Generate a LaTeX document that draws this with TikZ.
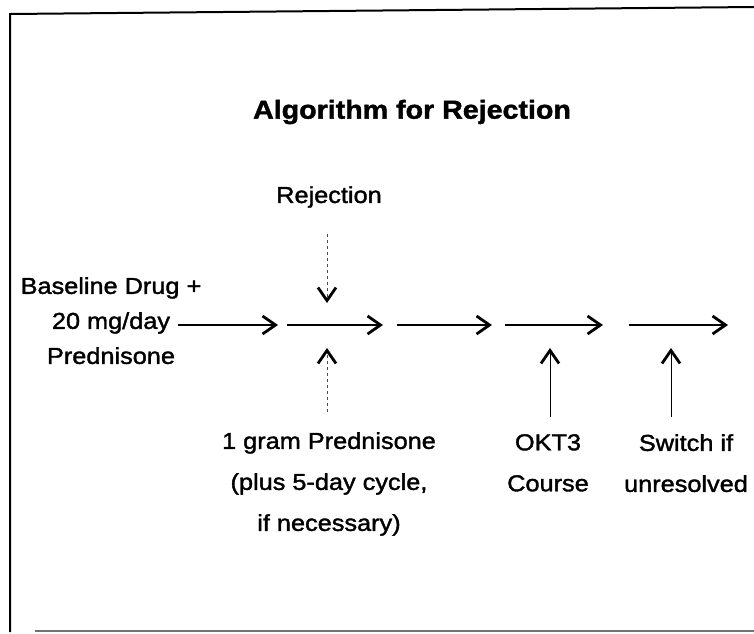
\documentclass[tikz,border=0pt]{standalone}
\usepackage{fontspec}
\setmainfont{Liberation Sans}[FakeStretch=1.1,FakeBold=1.6]
\newfontfamily\titlefont{Liberation Sans}[FakeStretch=1.1,FakeBold=1.6]
\usetikzlibrary{arrows.meta}
\begin{document}
\begin{tikzpicture}[x=1pt,y=-1pt,
  barb/.style={-{Straight Barb[length=13pt,width=18pt,line width=2.8pt,color=black]}},
  flow/.style={barb, line width=1.8pt},
  upline/.style={barb, line width=0.9pt},
  dashline/.style={barb, line width=0.9pt, black!70, dash pattern=on 3pt off 3pt},
  lbl/.style={font=\fontsize{23}{35}\selectfont, align=center, inner sep=0pt},
  lblb/.style={font=\fontsize{23}{41}\selectfont, align=center, inner sep=0pt},
  titlestyle/.style={font=\titlefont\fontsize{26}{30}\selectfont\bfseries, inner sep=0pt}
]
\useasboundingbox (0,0) rectangle (754,633);
% frame
\draw[line width=2pt] (10,632) -- (10,14) -- (754,7);
\draw[black!55, line width=2pt] (35,631) -- (754,631);

% texts
\node[titlestyle] (title) at (412,112) {Algorithm for Rejection};
\node[lbl] (rej) at (329,197) {Rejection};
\node[lbl, anchor=north] (base) at (111,277) {Baseline Drug +\\20 mg/day\\Prednisone};
\node[lblb, anchor=north] (gram) at (329,432) {1 gram Prednisone\\(plus 5-day cycle,\\if necessary)};
\node[lblb, anchor=north] (okt) at (548,434) {OKT3\\Course};
\node[lblb, anchor=north] (sw) at (686,434) {Switch if\\unresolved};

% horizontal flow
\coordinate (a1) at (178,325); \coordinate (b1) at (278,325);
\coordinate (a2) at (287,325); \coordinate (b2) at (383,325);
\coordinate (a3) at (397,325); \coordinate (b3) at (492,325);
\coordinate (a4) at (505,325); \coordinate (b4) at (603,325);
\coordinate (a5) at (629,325); \coordinate (b5) at (728,325);
\draw[flow] (a1) -- (b1);
\draw[flow] (a2) -- (b2);
\draw[flow] (a3) -- (b3);
\draw[flow] (a4) -- (b4);
\draw[flow] (a5) -- (b5);

% vertical arrows
\coordinate (rtip) at (327,303);
\coordinate (gtip) at (327,348);
\coordinate (otip) at (550,348);
\coordinate (stip) at (671,348);
\draw[dashline, shorten <=26pt] (rtip |- rej.south) -- (rtip);
\draw[dashline, shorten <=20pt] (gtip |- gram.north) -- (gtip);
\draw[upline, shorten <=17pt] (otip |- okt.north) -- (otip);
\draw[upline, shorten <=17pt] (stip |- sw.north) -- (stip);
\end{tikzpicture}
\end{document}
